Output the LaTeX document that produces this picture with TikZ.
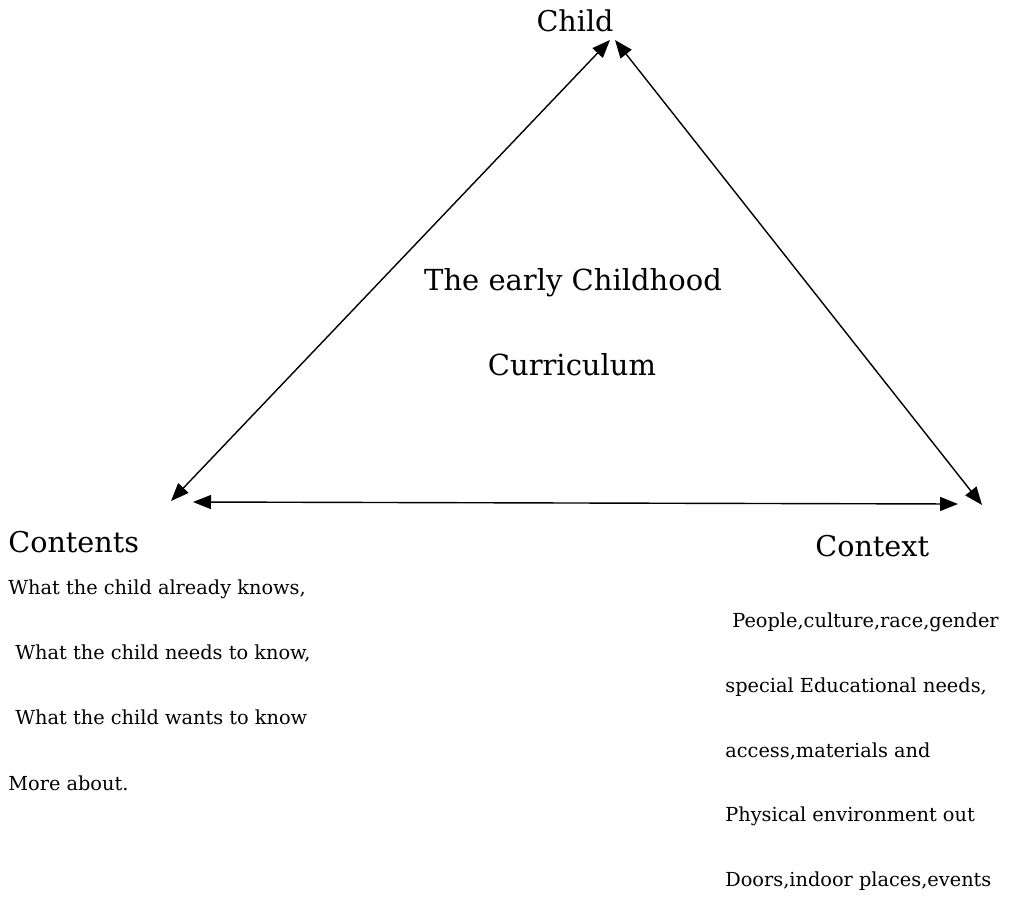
\documentclass[tikz,border=0pt]{standalone}
\usepackage{fontspec}
\setmainfont{DejaVu Serif}
\usepackage{tikz}
\usetikzlibrary{arrows.meta}

\tikzset{
  head/.style={font=\fontsize{16.3}{19}\selectfont},
  middle/.style={font=\fontsize{16.5}{19}\selectfont},
  item/.style={font=\fontsize{11}{13}\selectfont, anchor=west, inner sep=0pt},
}

\begin{document}
\begin{tikzpicture}[x=0.02cm, y=-0.02cm, >={Triangle[length=0.36cm,width=0.28cm]}]
  \useasboundingbox (0,0) rectangle (1020,896);
  % corners of the triangle
  \coordinate (topL) at (610,40);
  \coordinate (topR) at (615,40);
  \coordinate (lowL) at (171,501);
  \coordinate (lowR) at (982,505);
  \coordinate (baseL) at (193,502);
  \coordinate (baseR) at (958,504);
  \draw[<->, line width=0.8pt] (lowL)--(topL);
  \draw[<->, line width=0.8pt] (lowR)--(topR);
  \draw[<->, line width=0.8pt] (baseL)--(baseR);
  \node[head] (child) at (575,21) {Child};
  \node[middle] (title) at (573,283) {The early Childhood};
  \node[middle] (curr) at (572,365) {Curriculum};
  \node[head, anchor=west, inner sep=0pt] (contents) at (8,542) {Contents};
  \node[head, anchor=west, inner sep=0pt] (context) at (815,546) {Context};
  %\node[item] at (8,589) {...};
  \node[item] (c1) at (8,589) {What the child already knows,};
  \node[item] (c2) at (15,653) {What the child needs to know,};
  \node[item] (c3) at (15,717) {What the child wants to know};
  \node[item] (c4) at (8,783) {More about.};
  \node[item] (x1) at (732,622) {People,culture,race,gender};
  \node[item] (x2) at (725,687) {special Educational needs,};
  \node[item] (x3) at (725,751) {access,materials and};
  \node[item] (x4) at (725,816) {Physical environment out};
  \node[item] (x5) at (725,881) {Doors,indoor places,events};
\end{tikzpicture}
\end{document}
